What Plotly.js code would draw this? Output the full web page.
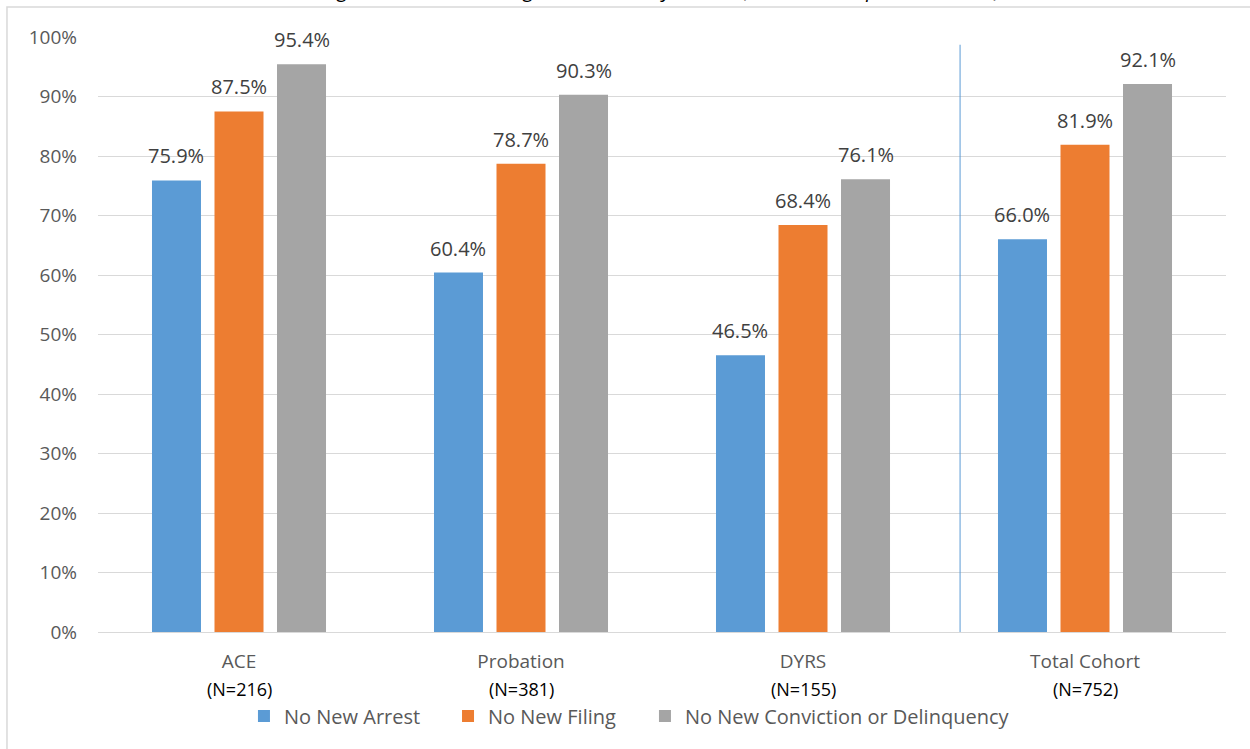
<!DOCTYPE html>
<html>
<head>
<meta charset="utf-8">
<script src="https://cdn.plot.ly/plotly-3.0.1.min.js"></script>
<style>
  html, body { margin: 0; padding: 0; background: #ffffff; }
  #chart { width: 1250px; height: 749px; }
</style>
</head>
<body>
<div id="chart"></div>
<script>
// Groups along the x axis and their sample sizes
const groups = ['ACE', 'Probation', 'DYRS', 'Total Cohort'];
const groupN = ['(N=216)', '(N=381)', '(N=155)', '(N=752)'];

// Share of youth with each outcome, in percent
const noNewArrest = [75.9, 60.4, 46.5, 66.0];
const noNewFiling = [87.5, 78.7, 68.4, 81.9];
const noNewConviction = [95.4, 90.3, 76.1, 92.1];

const seriesNames = ['No New Arrest', 'No New Filing', 'No New Conviction or Delinquency'];
const seriesColors = ['#5B9BD5', '#ED7D31', '#A5A5A5'];

const yTicks = [0, 10, 20, 30, 40, 50, 60, 70, 80, 90, 100];
const yTickText = yTicks.map(v => v + '%');

const chartTitle = 'Figure 5: Success during Intervention by Cohort (Youth in Completed Cohorts)';

const FONT = '"Open Sans", "Noto Sans", "Liberation Sans", sans-serif';

// Figure geometry
const W = 1250, H = 749;
const M = { l: 98, r: 24, t: 37, b: 117 };
const BARGAP = 0.335, BARGROUPGAP = 0.216;
const series = [noNewArrest, noNewFiling, noNewConviction];

// one legend box per series so the entries can be spaced freely
const legendIds = ['legend', 'legend2', 'legend3'];
const legendX = [0.1294, 0.3103, 0.4849];

const traces = series.map((vals, i) => ({
  type: 'bar',
  name: seriesNames[i],
  x: groups,
  y: vals,
  legend: legendIds[i],
  marker: { color: seriesColors[i], line: { width: 0 } },
  hoverinfo: 'skip'
}));

// Value labels above each bar; horizontal offset follows the grouped-bar slots
const slotWidth = (W - M.l - M.r) / groups.length * (1 - BARGAP) / series.length;
const valueAnnotations = [];
series.forEach((vals, i) => {
  vals.forEach((v, j) => {
    valueAnnotations.push({
      xref: 'x', yref: 'y',
      x: groups[j], y: v,
      xshift: (i - (series.length - 1) / 2) * slotWidth,
      yshift: 9,
      yanchor: 'bottom',
      text: v.toFixed(1) + '%',
      showarrow: false,
      font: { family: FONT, size: 20, color: '#404040' }
    });
  });
});

// Sample-size captions under each group label
const nAnnotations = groups.map((g, i) => ({
  xref: 'x', yref: 'paper',
  x: g, y: -0.096,
  text: groupN[i],
  showarrow: false,
  yanchor: 'middle',
  font: { family: FONT, size: 18, color: '#000000' }
}));

// Figure caption sitting above the chart frame, running off the top edge
const titleAnnotation = {
  xref: 'paper', yref: 'paper',
  x: 0.5, y: 1.0537,
  xanchor: 'center', yanchor: 'bottom',
  text: chartTitle,
  showarrow: false,
  font: { family: FONT, size: 20, color: '#000000', style: 'italic' }
};

const layout = {
  width: W,
  height: H,
  paper_bgcolor: '#ffffff',
  plot_bgcolor: '#ffffff',
  margin: M,
  font: { family: FONT, color: '#595959' },
  barmode: 'group',
  bargap: BARGAP,
  bargroupgap: BARGROUPGAP,
  xaxis: {
    type: 'category',
    showgrid: false,
    showline: true,
    linecolor: '#D9D9D9',
    linewidth: 1,
    ticks: '',
    ticklabelstandoff: 12,
    tickfont: { family: FONT, size: 19, color: '#595959' },
    fixedrange: true
  },
  yaxis: {
    range: [0, 100],
    tickvals: yTicks,
    ticktext: yTickText,
    showgrid: true,
    gridcolor: '#D9D9D9',
    gridwidth: 1,
    zeroline: false,
    showline: false,
    ticks: '',
    ticklabelstandoff: 20,
    tickfont: { family: FONT, size: 19, color: '#595959' },
    fixedrange: true
  },
  showlegend: true,
  annotations: valueAnnotations.concat(nAnnotations, [titleAnnotation]),
  shapes: [
    // separator between program groups and the full cohort
    {
      type: 'line', xref: 'x', yref: 'y',
      x0: 2.557, x1: 2.557, y0: 0, y1: 98.7,
      line: { color: '#5B9BD5', width: 1 },
      layer: 'above'
    },
    // chart frame
    {
      type: 'rect', xref: 'paper', yref: 'paper',
      x0: -0.0807, x1: 1.2, y0: -0.3, y1: 1.0504,
      line: { color: '#D9D9D9', width: 1.5 },
      fillcolor: 'rgba(0,0,0,0)',
      layer: 'below'
    }
  ]
};

legendIds.forEach((id, i) => {
  layout[id] = {
    orientation: 'h',
    x: legendX[i], xanchor: 'left',
    y: -0.141, yanchor: 'middle',
    bgcolor: 'rgba(0,0,0,0)',
    font: { family: FONT, size: 20, color: '#595959' },
    itemclick: false, itemdoubleclick: false
  };
});

Plotly.newPlot('chart', traces, layout, { displayModeBar: false, staticPlot: true });
</script>
</body>
</html>
